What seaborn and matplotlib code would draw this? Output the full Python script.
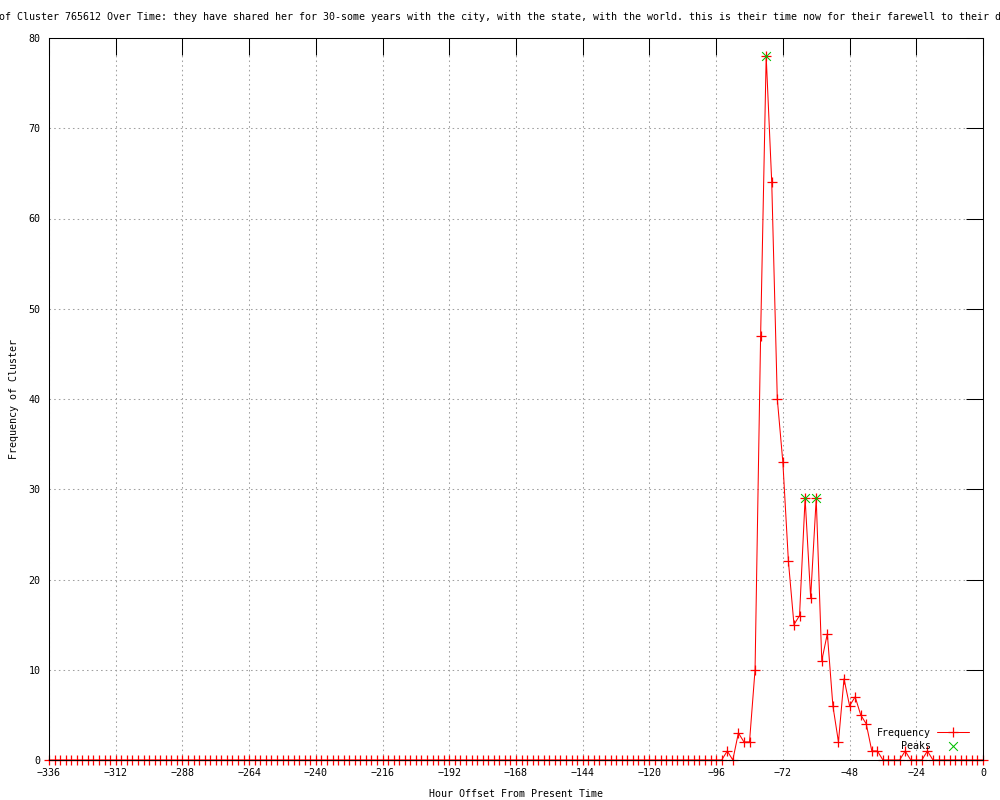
import matplotlib
matplotlib.use("Agg")
import matplotlib.pyplot as plt
import seaborn as sns

# hours before now, sampled every 2 hours
hours = list(range(-336, 1, 2))

# frequency per 2-hour bin (-336 ... 0)
frequency = [
    0, 0, 0, 0, 0, 0, 0, 0, 0, 0, 0, 0,   # -336 .. -314
    0, 0, 0, 0, 0, 0, 0, 0, 0, 0, 0, 0,   # -312 .. -290
    0, 0, 0, 0, 0, 0, 0, 0, 0, 0, 0, 0,   # -288 .. -266
    0, 0, 0, 0, 0, 0, 0, 0, 0, 0, 0, 0,   # -264 .. -242
    0, 0, 0, 0, 0, 0, 0, 0, 0, 0, 0, 0,   # -240 .. -218
    0, 0, 0, 0, 0, 0, 0, 0, 0, 0, 0, 0,   # -216 .. -194
    0, 0, 0, 0, 0, 0, 0, 0, 0, 0, 0, 0,   # -192 .. -170
    0, 0, 0, 0, 0, 0, 0, 0, 0, 0, 0, 0,   # -168 .. -146
    0, 0, 0, 0, 0, 0, 0, 0, 0, 0, 0, 0,   # -144 .. -122
    0, 0, 0, 0, 0, 0, 0, 0, 0, 0, 0, 0,   # -120 .. -98
    0, 0, 1, 0, 3, 2, 2, 10, 47, 78, 64, 40,   # -96 .. -74
    33, 22, 15, 16, 29, 18, 29, 11, 14, 6, 2, 9,   # -72 .. -50
    6, 7, 5, 4, 1, 1, 0, 0, 0, 0, 1, 0,   # -48 .. -26
    0, 0, 1, 0, 0, 0, 0, 0, 0, 0, 0, 0,   # -24 .. -2
    0,                                     # 0
]

peak_hours = [-78, -64, -60]
peak_values = [78, 29, 29]

x_ticks = [-336, -312, -288, -264, -240, -216, -192, -168, -144, -120, -96, -72, -48, -24, 0]
y_ticks = [0, 10, 20, 30, 40, 50, 60, 70, 80]

TITLE = ("of Cluster 765612 Over Time: they have shared her for 30-some years with the city, "
         "with the state, with the world. this is their time now for their farewell to their d")

sns.set_style("white")
plt.rcParams["font.family"] = ["DejaVu Sans Mono"]
plt.rcParams["font.size"] = 7.2
plt.rcParams["text.color"] = "black"
plt.rcParams["axes.labelcolor"] = "black"

fig = plt.figure(figsize=(10, 8), dpi=100)
ax = fig.add_axes([0.049, 0.05, 0.934, 0.9025])

sns.lineplot(x=hours, y=frequency, ax=ax, color="#ff0000", linewidth=0.75,
             marker="+", markersize=7, markeredgewidth=0.9, markeredgecolor="#ff0000",
             label="Frequency", clip_on=False, zorder=2)
sns.scatterplot(x=peak_hours, y=peak_values, ax=ax, color="#00c000", marker="x",
                s=40, linewidth=0.75, label="    Peaks", zorder=3)

ax.set_xlim(-336, 0)
ax.set_ylim(0, 80)
ax.set_xticks(x_ticks)
ax.set_yticks(y_ticks)
ax.grid(True, color="#a0a0a0", linestyle=(0, (1.5, 3)), linewidth=0.75)

ax.tick_params(direction="in", length=12, width=0.75, top=True, right=True,
               labeltop=False, labelright=False, colors="black", labelsize=7.2)
ax.tick_params(axis="x", pad=6)
ax.tick_params(axis="y", pad=6)
for s in ax.spines.values():
    s.set_color("black")
    s.set_linewidth(0.75)
    s.set_zorder(4)

ax.set_xlabel("Hour Offset From Present Time", fontsize=7.2, labelpad=8)
ax.set_ylabel("Frequency of Cluster", fontsize=7.2, labelpad=7)
fig.text(0.5, 0.979, TITLE, ha="center", va="center", fontsize=7.2)

leg = ax.legend(loc="lower right", frameon=False, markerfirst=False,
                handlelength=3.2, handletextpad=0.6, labelspacing=0.35,
                bbox_to_anchor=(0.995, 0.0), fontsize=7.2)
for t in leg.get_texts():
    t.set_color("black")

fig.savefig("out.png", dpi=100)
